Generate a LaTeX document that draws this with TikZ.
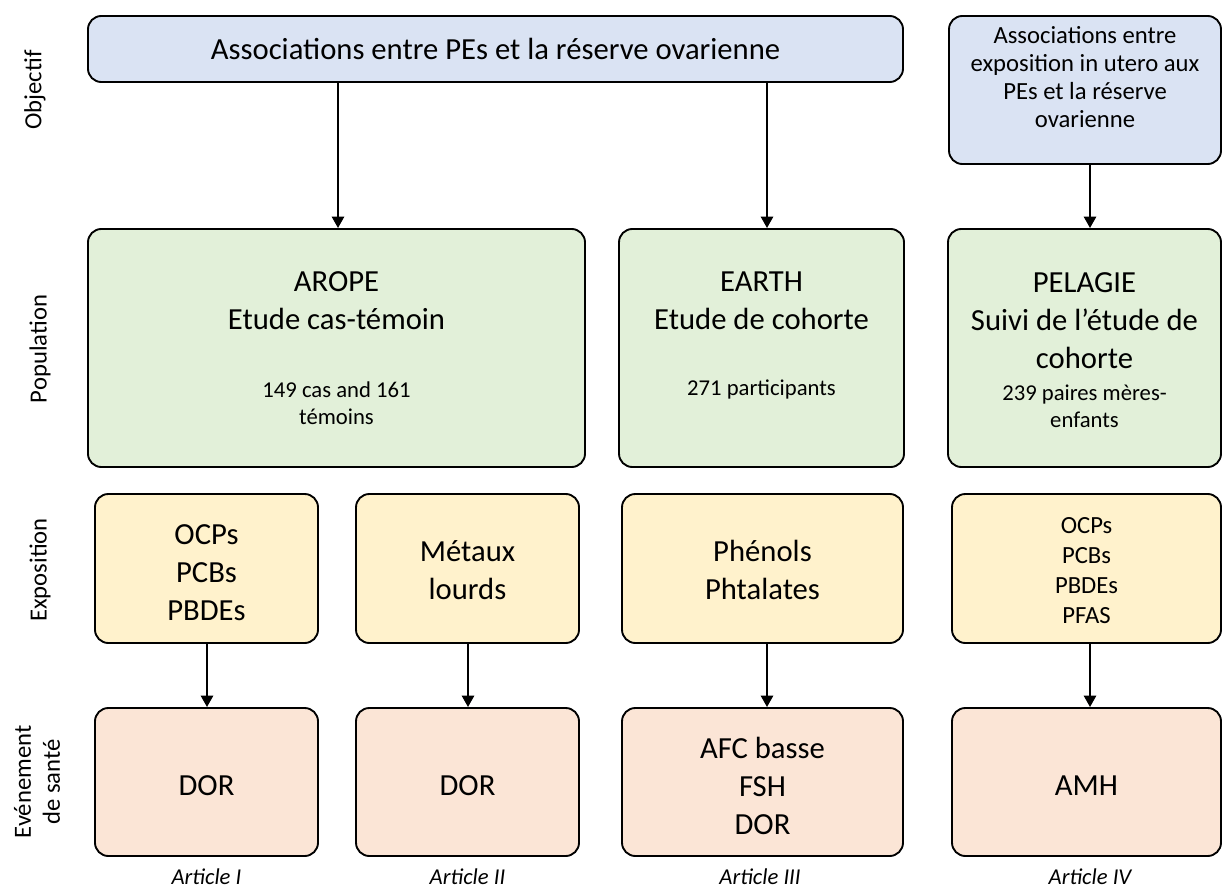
\documentclass[tikz,border=0pt]{standalone}
\usepackage{fontspec}
\setmainfont{Carlito}
\usetikzlibrary{arrows.meta}
\definecolor{cblue}{HTML}{DAE3F3}
\definecolor{cgreen}{HTML}{E2F0D9}
\definecolor{cyellow}{HTML}{FFF2CC}
\definecolor{cpeach}{HTML}{FBE5D6}
\newcommand\myfs[2]{\fontsize{#1}{#2}\selectfont}
\begin{document}
\begin{tikzpicture}[x=0.75pt,y=-0.75pt,
  box/.style={draw=black,line width=1.4pt,rounded corners=10pt,inner sep=0pt},
  arr/.style={draw=black,line width=1.8pt,-{Triangle[length=8.5pt,width=9pt]}},
  txt/.style={align=center,inner sep=0pt,text=black},
  big/.style={txt,font=\myfs{23}{28.5}},
  mid/.style={txt,font=\myfs{18.5}{21}},
  small/.style={txt,font=\myfs{17}{20.25}},
  side/.style={txt,rotate=90,font=\myfs{18.5}{21.75}},
  art/.style={txt,anchor=base,font=\itshape\myfs{17}{20}}]
\useasboundingbox (0,0) rectangle (1223,891);
% row 1 : objectif
\node[box,fill=cblue,minimum width=611.25pt,minimum height=49.5pt] (obj) at (495.5,49) {};
\node[big] (objt) at (495.5,49) {Associations entre PEs et la réserve ovarienne};
\node[box,fill=cblue,minimum width=204pt,minimum height=111pt] (obj2) at (1085,90) {};
\node[mid] (obj2t) at (1085,77) {Associations entre\\exposition in utero aux\\PEs et la réserve\\ovarienne};
% row 2 : population
\node[box,fill=cgreen,minimum width=372.75pt,minimum height=178.5pt] (arope) at (336.5,348) {};
\node[big] (aropet) at (336.5,301) {AROPE\\Etude cas-témoin};
\node[small] (aropen) at (336.5,403) {149 cas and 161\\témoins};
\node[box,fill=cgreen,minimum width=213.75pt,minimum height=178.5pt] (earth) at (761.5,348) {};
\node[big] (eartht) at (761.5,301) {EARTH\\Etude de cohorte};
\node[small] (earthn) at (761.5,389) {271 participants};
\node[box,fill=cgreen,minimum width=204.75pt,minimum height=178.5pt] (pel) at (1084.5,348) {};
\node[big] (pelt) at (1084.5,321) {PELAGIE\\Suivi de l’étude de\\cohorte};
\node[small] (peln) at (1084.5,406) {239 paires mères-\\enfants};
% row 3 : exposition
\node[box,fill=cyellow,minimum width=167.25pt,minimum height=111.75pt] (e1) at (206.5,568.5) {};
\node[big] (e1t) at (206.5,573) {OCPs\\PCBs\\PBDEs};
\node[box,fill=cyellow,minimum width=167.25pt,minimum height=111.75pt] (e2) at (467.5,568.5) {};
\node[big] (e2t) at (467.5,570) {Métaux\\lourds};
\node[box,fill=cyellow,minimum width=210.75pt,minimum height=111.75pt] (e3) at (762.5,568.5) {};
\node[big] (e3t) at (762.5,570) {Phénols\\Phtalates};
\node[box,fill=cyellow,minimum width=201.75pt,minimum height=111.75pt] (e4) at (1086.5,568.5) {};
\node[txt,font=\myfs{18.5}{22.5}] (e4t) at (1086.5,571) {OCPs\\PCBs\\PBDEs\\PFAS};
% row 4 : evenement de sante
\node[box,fill=cpeach,minimum width=167.25pt,minimum height=111pt] (h1) at (206.5,782) {};
\node[big] (h1t) at (206.5,786) {DOR};
\node[box,fill=cpeach,minimum width=167.25pt,minimum height=111pt] (h2) at (467.5,782) {};
\node[big] (h2t) at (467.5,786) {DOR};
\node[box,fill=cpeach,minimum width=210.75pt,minimum height=111pt] (h3) at (762.5,782) {};
\node[big] (h3t) at (762.5,786) {AFC basse\\FSH\\DOR};
\node[box,fill=cpeach,minimum width=201.75pt,minimum height=111pt] (h4) at (1086.5,782) {};
\node[big] (h4t) at (1086.5,786) {AMH};
% articles
\node[art] (a1) at (206.5,884) {Article I};
\node[art] (a2) at (467.5,884) {Article II};
\node[art] (a3) at (760,884) {Article III};
\node[art] (a4) at (1090,884) {Article IV};
% side labels
\node[side] (s1) at (35,90) {Objectif};
\node[side] (s2) at (40,349) {Population};
\node[side] (s3) at (40,570) {Exposition};
\node[side] (s4) at (37,782) {Evénement\\de santé};
% arrows
\coordinate (x1) at (338,0);
\coordinate (x2) at (767,0);
\coordinate (x3) at (1090,0);
\coordinate (x4) at (207,0);
\coordinate (x5) at (468,0);
\draw[arr] (obj.south -| x1) -- (arope.north -| x1);
\draw[arr] (obj.south -| x2) -- (earth.north -| x2);
\draw[arr] (obj2.south -| x3) -- (pel.north -| x3);
\draw[arr] (e1.south -| x4) -- (h1.north -| x4);
\draw[arr] (e2.south -| x5) -- (h2.north -| x5);
\draw[arr] (e3.south -| x2) -- (h3.north -| x2);
\draw[arr] (e4.south -| x3) -- (h4.north -| x3);
\end{tikzpicture}
\end{document}
